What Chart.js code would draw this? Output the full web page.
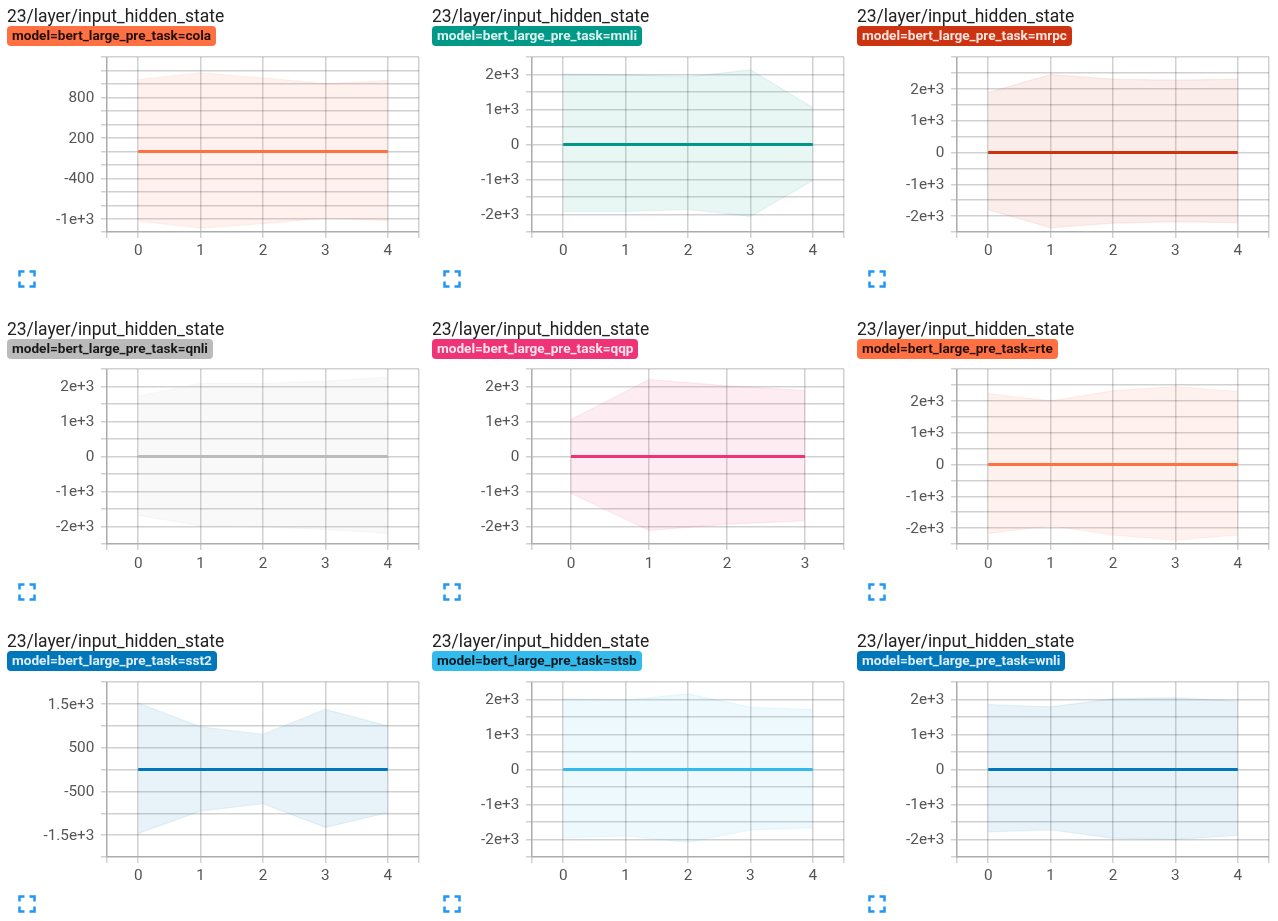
<!DOCTYPE html>
<html>
<head>
<meta charset="utf-8">
<title>23/layer/input_hidden_state</title>
<script src="https://cdnjs.cloudflare.com/ajax/libs/Chart.js/4.4.0/chart.umd.min.js"></script>
<style>
  html, body { margin: 0; padding: 0; background: #fff; overflow: hidden; }
  body { width: 1278px; height: 921px; position: relative; font-family: Roboto, sans-serif; }
  .panel { position: absolute; width: 425px; height: 300px; }
  .panel canvas { position: absolute; left: 0; }
  .title { position: absolute; left: 7px; top: 6px; font-size: 17.45px; line-height: 20px; color: #212121; white-space: nowrap; }
  .tag { position: absolute; left: 7px; top: 26px; height: 19.5px; line-height: 19.5px; padding: 0 5px; border-radius: 4px;
         font-size: 13.6px; font-weight: 700; white-space: nowrap; }
  .expand { position: absolute; left: 12px; top: 264px; width: 30px; height: 30px; fill: #2196f3; }
</style>
</head>
<body>
<script>
// values, band edges per run
const steps = [0, 1, 2, 3, 4];
const stepsQqp = [0, 1, 2, 3];

const colaUpper = [1067, 1165, 1090, 1007, 1052];
const colaLower = [-1028, -1132, -1067, -984, -1018];
const colaMean = [0, 0, 0, 0, 0];
const colaTicks = [800, 200, -400, -1000];
const colaTickLabels = ['800', '200', '-400', '-1e+3'];

const mnliUpper = [2010, 1990, 1933, 2133, 1057];
const mnliLower = [-1914, -1914, -1857, -2057, -1029];
const mnliMean = [0, 0, 0, 0, 0];

const mrpcUpper = [1885, 2450, 2304, 2272, 2304];
const mrpcLower = [-1801, -2366, -2220, -2178, -2209];
const mrpcMean = [0, 0, 0, 0, 0];

const qnliUpper = [1724, 2086, 2086, 2152, 2267];
const qnliLower = [-1676, -1981, -2010, -2086, -2190];
const qnliMean = [0, 0, 0, 0, 0];

const qqpUpper = [1057, 2200, 2020, 1886];
const qqpLower = [-1048, -2114, -1933, -1838];
const qqpMean = [0, 0, 0, 0];

const rteUpper = [2230, 2000, 2314, 2450, 2293];
const rteLower = [-2168, -1927, -2220, -2377, -2220];
const rteMean = [0, 0, 0, 0, 0];

const sst2Upper = [1520, 973, 806, 1376, 996];
const sst2Lower = [-1460, -950, -783, -1323, -989];
const sst2Mean = [0, 0, 0, 0, 0];
const sst2Ticks = [1500, 500, -500, -1500];
const sst2TickLabels = ['1.5e+3', '500', '-500', '-1.5e+3'];

const stsbUpper = [2019, 1981, 2162, 1781, 1714];
const stsbLower = [-1952, -1895, -2086, -1724, -1667];
const stsbMean = [0, 0, 0, 0, 0];

const wnliUpper = [1857, 1790, 2019, 2048, 1952];
const wnliLower = [-1781, -1724, -1962, -2000, -1886];
const wnliMean = [0, 0, 0, 0, 0];

const thousandTicks = [2000, 1000, 0, -1000, -2000];
const thousandTickLabels = ['2e+3', '1e+3', '0', '-1e+3', '-2e+3'];

const DARK = 'rgba(0, 0, 0, 0.87)';
const LIGHT = 'rgba(255, 255, 255, 0.87)';

const panels = [
  { task: 'cola', color: [255, 112, 67], text: DARK, x: steps, upper: colaUpper, lower: colaLower, mean: colaMean, min: -1190, max: 1400, step: 200, ticks: colaTicks, labels: colaTickLabels },
  { task: 'mnli', color: [0, 153, 136], text: LIGHT, x: steps, upper: mnliUpper, lower: mnliLower, mean: mnliMean, min: -2500, max: 2500, step: 500, ticks: thousandTicks, labels: thousandTickLabels },
  { task: 'mrpc', color: [204, 51, 17], text: LIGHT, x: steps, upper: mrpcUpper, lower: mrpcLower, mean: mrpcMean, min: -2500, max: 3000, step: 500, ticks: thousandTicks, labels: thousandTickLabels },
  { task: 'qnli', color: [187, 187, 187], text: DARK, x: steps, upper: qnliUpper, lower: qnliLower, mean: qnliMean, min: -2500, max: 2500, step: 500, ticks: thousandTicks, labels: thousandTickLabels },
  { task: 'qqp', color: [238, 51, 119], text: LIGHT, x: stepsQqp, upper: qqpUpper, lower: qqpLower, mean: qqpMean, min: -2500, max: 2500, step: 500, ticks: thousandTicks, labels: thousandTickLabels },
  { task: 'rte', color: [255, 112, 67], text: DARK, x: steps, upper: rteUpper, lower: rteLower, mean: rteMean, min: -2500, max: 3000, step: 500, ticks: thousandTicks, labels: thousandTickLabels },
  { task: 'sst2', color: [0, 119, 187], text: LIGHT, x: steps, upper: sst2Upper, lower: sst2Lower, mean: sst2Mean, min: -2000, max: 2000, step: 500, ticks: sst2Ticks, labels: sst2TickLabels },
  { task: 'stsb', color: [51, 187, 238], text: DARK, x: steps, upper: stsbUpper, lower: stsbLower, mean: stsbMean, min: -2500, max: 2500, step: 500, ticks: thousandTicks, labels: thousandTickLabels },
  { task: 'wnli', color: [0, 119, 187], text: LIGHT, x: steps, upper: wnliUpper, lower: wnliLower, mean: wnliMean, min: -2500, max: 2500, step: 500, ticks: thousandTicks, labels: thousandTickLabels },
];

const COL_W = 425;
const ROW_TOPS = [0, 313, 625];
const CANVAS_SHIFT = [0, -1, 0];
const GRID = 'rgba(0, 0, 0, 0.18)';
const GRID_W = 1.5;
const TICK_TEXT = '#555';
const ICON = 'M7 14H5v5h5v-2H7v-3zm-2-4h2V7h3V5H5v5zm12 7h-3v2h5v-5h-2v3zM14 5v2h3v3h2V5h-5z';

// grid at every step plus both plot edges
function gridValues(min, max, step) {
  const vals = [min];
  for (let v = Math.ceil(min / step) * step; v < max; v += step) {
    if (v > min) vals.push(v);
  }
  vals.push(max);
  return vals.map((value) => ({ value }));
}

panels.forEach((p, i) => {
  const row = Math.floor(i / 3);
  const el = document.createElement('div');
  el.className = 'panel';
  el.style.left = (i % 3) * COL_W + 'px';
  el.style.top = ROW_TOPS[row] + 'px';
  el.innerHTML =
    '<canvas width="425" height="262" style="top:' + CANVAS_SHIFT[row] + 'px"></canvas>' +
    '<div class="title">23/layer/input_hidden_state</div>' +
    '<div class="tag" style="background:rgb(' + p.color + ');color:' + p.text + '">model=bert_large_pre_task=' + p.task + '</div>' +
    '<svg class="expand" viewBox="0 0 24 24"><path d="' + ICON + '"/></svg>';
  document.body.appendChild(el);

  const band = 'rgba(' + p.color + ', 0.09)';
  const xMax = p.x[p.x.length - 1] + 0.5;

  new Chart(el.querySelector('canvas'), {
    type: 'line',
    data: {
      labels: p.x,
      datasets: [
        { data: p.x.map((v, k) => ({ x: v, y: p.mean[k] })), borderColor: 'rgb(' + p.color + ')', borderWidth: 3, fill: false },
        { data: p.x.map((v, k) => ({ x: v, y: p.upper[k] })), borderColor: band, backgroundColor: band, borderWidth: 1.2, fill: 2 },
        { data: p.x.map((v, k) => ({ x: v, y: p.lower[k] })), borderColor: band, borderWidth: 1.2, fill: false },
      ],
    },
    options: {
      responsive: false,
      animation: false,
      layout: { padding: { top: 57, right: 6 } },
      elements: { point: { radius: 0 }, line: { tension: 0 } },
      plugins: { legend: { display: false }, tooltip: { enabled: false } },
      scales: {
        x: {
          type: 'linear',
          min: -0.5,
          max: xMax,
          afterFit: (scale) => { scale.height = 30; },
          afterBuildTicks: (scale) => { scale.ticks = gridValues(-0.5, xMax, 1); },
          grid: { color: GRID, tickColor: GRID, tickLength: 6, lineWidth: GRID_W },
          border: { color: GRID, width: GRID_W },
          ticks: {
            autoSkip: false,
            maxRotation: 0,
            padding: 4 - CANVAS_SHIFT[row],
            color: TICK_TEXT,
            font: { family: 'Roboto', size: 15.3 },
            callback: (v) => (Number.isInteger(v) ? String(v) : ''),
          },
        },
        y: {
          min: p.min,
          max: p.max,
          afterFit: (scale) => { scale.width = 107; },
          afterBuildTicks: (scale) => { scale.ticks = gridValues(p.min, p.max, p.step); },
          grid: { color: GRID, tickColor: GRID, tickLength: 6, lineWidth: GRID_W },
          border: { color: GRID, width: GRID_W },
          ticks: {
            autoSkip: false,
            padding: 6.7,
            labelOffset: 1,
            color: TICK_TEXT,
            font: { family: 'Roboto', size: 15.3 },
            callback: (v) => {
              const k = p.ticks.indexOf(v);
              return k >= 0 ? p.labels[k] : '';
            },
          },
        },
      },
    },
  });
});
</script>
</body>
</html>
